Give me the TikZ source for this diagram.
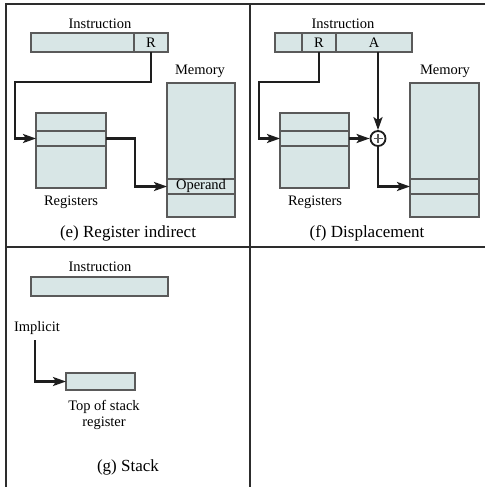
\documentclass[tikz,border=0pt]{standalone}
\usepackage{fontspec}
\setmainfont{Liberation Serif}
\usetikzlibrary{arrows.meta}
\definecolor{boxfill}{RGB}{216,230,230}
\definecolor{boxline}{RGB}{90,90,90}
\definecolor{arrcol}{RGB}{30,30,30}
\definecolor{framecol}{RGB}{45,45,45}
\tikzset{
  cell/.style={draw=boxline, fill=boxfill, line width=1.6pt, inner sep=0pt, outer sep=0pt, anchor=north west},
  lbl/.style={inner sep=0pt, font=\fontsize{14.5}{16.5}\selectfont},
  captxt/.style={inner sep=0pt, font=\fontsize{17}{19}\selectfont},
  arr/.style={draw=arrcol, line width=2.3pt, -{Stealth[length=13pt,width=9pt,inset=3pt]}},
  framel/.style={draw=framecol, line width=1.8pt},
  plusc/.style={circle, draw=arrcol, fill=white, line width=1.8pt, minimum size=15pt, inner sep=0pt},
}
\begin{document}
\begin{tikzpicture}[x=1pt,y=-1pt]
\useasboundingbox (0,0) rectangle (485,487);
% frame
\draw[framel] (485,4) -- (6,4) -- (6,487);
\draw[framel] (250,4) -- (250,487);
\draw[framel] (6,247) -- (485,247);

% ---------- (e) Register indirect
\node[lbl] (insEt) at (100,24) {Instruction};
\node[cell, minimum width=103pt, minimum height=19pt] (insEa) at (31,33) {};
\node[cell, minimum width=34pt, minimum height=19pt, font=\fontsize{14.5}{16.5}\selectfont] (insER) at (134,33) {R};
\node[cell, minimum width=70pt, minimum height=18pt] (regEt) at (36,113) {};
\node[cell, minimum width=70pt, minimum height=15pt] (regEm) at (36,131) {};
\node[cell, minimum width=70pt, minimum height=42pt] (regEb) at (36,146) {};
\node[lbl] (regElbl) at (71,202) {Registers};
\node[lbl] (memElbl) at (200,71) {Memory};
\node[cell, minimum width=68pt, minimum height=96pt] (memEt) at (167,83) {};
\node[cell, minimum width=68pt, minimum height=15pt, font=\fontsize{14.5}{16.5}\selectfont] (memEo) at (167,179) {Operand};
\node[cell, minimum width=68pt, minimum height=23pt] (memEb) at (167,194) {};
\node[captxt] (capE) at (128,233) {(e) Register indirect};
\coordinate (cE1) at (15,82);
\coordinate (cE2) at (135,160);
\draw[arr] (insER.south) |- (cE1) |- (regEm.west);
\draw[arr] (regEm.east) -| (cE2) |- (memEo.west);

% ---------- (f) Displacement
\node[lbl] (insFt) at (343,24) {Instruction};
\node[cell, minimum width=27pt, minimum height=19pt] (insFa) at (275,33) {};
\node[cell, minimum width=34pt, minimum height=19pt, font=\fontsize{14.5}{16.5}\selectfont] (insFR) at (302,33) {R};
\node[cell, minimum width=76pt, minimum height=19pt, font=\fontsize{14.5}{16.5}\selectfont] (insFA) at (336,33) {A};
\node[cell, minimum width=69pt, minimum height=18pt] (regFt) at (280,113) {};
\node[cell, minimum width=69pt, minimum height=15pt] (regFm) at (280,131) {};
\node[cell, minimum width=69pt, minimum height=42pt] (regFb) at (280,146) {};
\node[lbl] (regFlbl) at (315,202) {Registers};
\node[lbl] (memFlbl) at (445,71) {Memory};
\node[cell, minimum width=69pt, minimum height=96pt] (memFt) at (410,83) {};
\node[cell, minimum width=69pt, minimum height=15pt] (memFm) at (410,179) {};
\node[cell, minimum width=69pt, minimum height=23pt] (memFb) at (410,194) {};
\node[plusc] (plus) at (378,138.5) {};
\draw[boxline, line width=1.1pt] (plus.center) ++(-4.5,0) -- ++(9,0);
\draw[boxline, line width=1.1pt] (plus.center) ++(0,-4.5) -- ++(0,9);
\node[captxt] (capF) at (367,233) {(f) Displacement};
\coordinate (cF1) at (259,82);
\draw[arr] (insFR.south) |- (cF1) |- (regFm.west);
\draw[arr] (regFm.east) -- (plus.west);
\draw[arr] (insFA.south -| plus.north) -- (plus.north);
\draw[arr] (plus.south) |- (memFm.west);

% ---------- (g) Stack
\node[lbl] (insGt) at (100,267) {Instruction};
\node[cell, minimum width=137pt, minimum height=19pt] (insG) at (31,277) {};
\node[lbl] (impl) at (37,328) {Implicit};
\node[cell, minimum width=69pt, minimum height=17pt] (tos) at (66,373) {};
\node[lbl, align=center] (toslbl) at (104,415) {Top of stack\\register};
\node[captxt] (capG) at (128,467) {(g) Stack};
\coordinate (cG1) at (35,340);
\draw[arr] (cG1) |- (tos.west);
\end{tikzpicture}
\end{document}
